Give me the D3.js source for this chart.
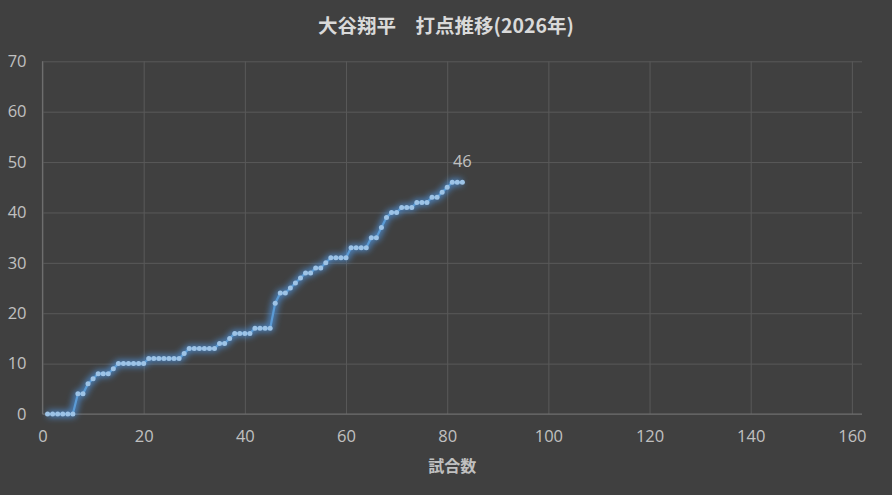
<!DOCTYPE html>
<html>
<head>
<meta charset="utf-8">
<script src="https://cdn.jsdelivr.net/npm/d3@7"></script>
<style>
  html, body { margin: 0; padding: 0; background: #404040; }
  svg { display: block; }
</style>
</head>
<body>
<svg id="chart" width="892" height="495"></svg>
<script>
// ==========================================================
// DATA — RBI total after each game
// ==========================================================
const chartTitle = "大谷翔平\u3000打点推移(2026年)";
const xAxisTitle = "試合数";

const games = d3.range(1, 84);
const rbi = [
    0, 0, 0, 0, 0, 0, 4, 4, 6, 7,
    8, 8, 8, 9, 10, 10, 10, 10, 10, 10,
    11, 11, 11, 11, 11, 11, 11, 12, 13, 13,
    13, 13, 13, 13, 14, 14, 15, 16, 16, 16,
    16, 17, 17, 17, 17, 22, 24, 24, 25, 26,
    27, 28, 28, 29, 29, 30, 31, 31, 31, 31,
    33, 33, 33, 33, 35, 35, 37, 39, 40, 40,
    41, 41, 41, 42, 42, 42, 43, 43, 44, 45,
    46, 46, 46
];

const xTicks = [0, 20, 40, 60, 80, 100, 120, 140, 160];
const yTicks = [0, 10, 20, 30, 40, 50, 60, 70];

// ==========================================================
// DRAW
// ==========================================================
function drawChart() {
    const svg = d3.select("#chart");
    const margin = { left: 42.5, right: 30, top: 61.3, bottom: 81 };
    const width = 892, height = 495;

    const x = d3.scaleLinear().domain([0, 162]).range([margin.left, width - margin.right]);
    const y = d3.scaleLinear().domain([0, 70]).range([height - margin.bottom, margin.top]);

    const numFont = "'Open Sans', 'Noto Sans', sans-serif";
    const jpFont = "'Noto Sans CJK JP', sans-serif";

    // soft glow filter for the line
    const defs = svg.append("defs");
    const glow = defs.append("filter").attr("id", "glow")
        .attr("x", "-10%").attr("y", "-10%").attr("width", "120%").attr("height", "120%");
    glow.append("feGaussianBlur").attr("in", "SourceGraphic").attr("stdDeviation", 3);

    // gridlines
    svg.append("g")
        .attr("transform", `translate(${margin.left},0)`)
        .call(d3.axisLeft(y).tickValues(yTicks).tickSize(-(width - margin.right - margin.left)).tickFormat(""))
        .call(g => g.select(".domain").remove())
        .call(g => g.selectAll("line").attr("stroke", "#595959").attr("stroke-width", 1));

    svg.append("g")
        .attr("transform", `translate(0,${height - margin.bottom})`)
        .call(d3.axisBottom(x).tickValues(xTicks).tickSize(-(height - margin.bottom - margin.top)).tickFormat(""))
        .call(g => g.select(".domain").remove())
        .call(g => g.selectAll("line").attr("stroke", "#595959").attr("stroke-width", 1));

    // axis lines
    svg.append("line")
        .attr("x1", margin.left).attr("x2", width - margin.right)
        .attr("y1", y(0)).attr("y2", y(0))
        .attr("stroke", "#6e6e6e").attr("stroke-width", 1.2);
    svg.append("line")
        .attr("x1", margin.left).attr("x2", margin.left)
        .attr("y1", y(0)).attr("y2", y(70))
        .attr("stroke", "#6e6e6e").attr("stroke-width", 1.2);

    // tick labels
    svg.append("g")
        .attr("transform", `translate(0,${height - margin.bottom})`)
        .call(d3.axisBottom(x).tickValues(xTicks).tickSize(0).tickPadding(16))
        .call(g => g.select(".domain").remove())
        .call(g => g.selectAll("text")
            .attr("fill", "#c0c0c0")
            .style("font-family", numFont)
            .style("font-size", "16.5px"));

    svg.append("g")
        .attr("transform", `translate(${margin.left},0)`)
        .call(d3.axisLeft(y).tickValues(yTicks).tickSize(0).tickPadding(16))
        .call(g => g.select(".domain").remove())
        .call(g => g.selectAll("text")
            .attr("fill", "#c0c0c0")
            .style("font-family", numFont)
            .style("font-size", "16.5px"));

    // series
    const points = games.map((g, i) => ({ game: g, value: rbi[i] }));
    const line = d3.line().x(d => x(d.game)).y(d => y(d.value));

    svg.append("path")
        .datum(points)
        .attr("fill", "none")
        .attr("stroke", "#4f9ae8")
        .attr("stroke-width", 7)
        .attr("stroke-opacity", 0.75)
        .attr("stroke-linejoin", "round")
        .attr("filter", "url(#glow)")
        .attr("d", line);

    svg.append("path")
        .datum(points)
        .attr("fill", "none")
        .attr("stroke", "#5b9bd5")
        .attr("stroke-width", 2.2)
        .attr("d", line);

    svg.append("g")
        .selectAll("circle")
        .data(points)
        .join("circle")
        .attr("cx", d => x(d.game))
        .attr("cy", d => y(d.value))
        .attr("r", 2.5)
        .attr("fill", "#9dc3e6");

    // last value label
    const last = points[points.length - 1];
    svg.append("text")
        .attr("x", x(last.game))
        .attr("y", y(last.value) - 15)
        .attr("text-anchor", "middle")
        .attr("fill", "#c0c0c0")
        .style("font-family", numFont)
        .style("font-size", "16.5px")
        .text(last.value);

    // titles
    svg.append("text")
        .attr("x", 446)
        .attr("y", 33)
        .attr("text-anchor", "middle")
        .attr("fill", "#d9d9d9")
        .style("font-family", jpFont)
        .style("font-size", "19.5px")
        .style("font-weight", "bold")
        .text(chartTitle);

    svg.append("text")
        .attr("x", (margin.left + width - margin.right) / 2)
        .attr("y", 472)
        .attr("text-anchor", "middle")
        .attr("fill", "#c0c0c0")
        .style("font-family", jpFont)
        .style("font-size", "16px")
        .style("font-weight", "bold")
        .text(xAxisTitle);
}

document.addEventListener("DOMContentLoaded", drawChart);
</script>
</body>
</html>
